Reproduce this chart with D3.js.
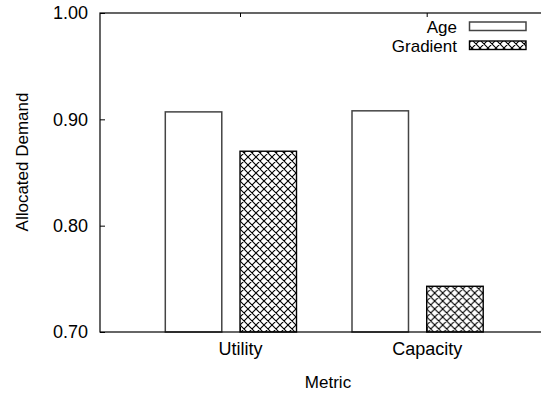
<!DOCTYPE html>
<html>
<head>
<meta charset="utf-8">
<script src="https://cdn.jsdelivr.net/npm/d3@7"></script>
<style>
  html, body { margin: 0; padding: 0; background: #fff; }
  svg { display: block; font-family: "Liberation Sans", Arial, Helvetica, sans-serif; }
</style>
</head>
<body>
<svg id="chart" width="541" height="394"></svg>
<script>
// Allocated demand per metric, Age vs Gradient
const categories = ["Utility", "Capacity"];
const seriesNames = ["Age", "Gradient"];
const ageValues = [0.907, 0.908];
const gradientValues = [0.870, 0.743];
const yTicks = [0.70, 0.80, 0.90, 1.00];
const yDomain = [0.70, 1.00];

const svg = d3.select("#chart");
const margin = { left: 100, top: 13 };
const plotW = 456, plotH = 319;

const defs = svg.append("defs");
const hatch = defs.append("pattern")
  .attr("id", "crosshatch")
  .attr("patternUnits", "userSpaceOnUse")
  .attr("width", 8).attr("height", 8);
hatch.append("rect").attr("width", 8).attr("height", 8).attr("fill", "#fff");
hatch.append("path")
  .attr("d", "M0,0L8,8M8,0L0,8M-1,7L1,9M7,-1L9,1M-1,1L1,-1M7,9L9,7")
  .attr("stroke", "#000").attr("stroke-width", 1.1).attr("fill", "none");

const g = svg.append("g").attr("transform", `translate(${margin.left},${margin.top})`);

const y = d3.scaleLinear().domain(yDomain).range([plotH, 0]);
const x0 = d3.scalePoint().domain(categories).range([140, 326.7]);
const x1 = d3.scaleBand().domain(seriesNames).range([-74.7, 56.5]).paddingInner(0.244);

const rows = categories.map((c, i) => ({ category: c, values: [
  { series: "Age", value: ageValues[i] },
  { series: "Gradient", value: gradientValues[i] }
]}));

const styles = {
  Age: { fill: "#fff", stroke: "#444", width: 1.5 },
  Gradient: { fill: "url(#crosshatch)", stroke: "#000", width: 1.4 }
};

const groups = g.selectAll("g.cluster").data(rows).join("g")
  .attr("class", "cluster")
  .attr("transform", d => `translate(${x0(d.category)},0)`);

groups.selectAll("rect").data(d => d.values).join("rect")
  .attr("x", d => x1(d.series))
  .attr("width", x1.bandwidth())
  .attr("y", d => y(d.value))
  .attr("height", d => y(yDomain[0]) - y(d.value))
  .attr("fill", d => styles[d.series].fill)
  .attr("stroke", d => styles[d.series].stroke)
  .attr("stroke-width", d => styles[d.series].width);

// Axes with inward ticks
const fontSize = 18;
const yAxis = g.append("g")
  .call(d3.axisLeft(y).tickValues(yTicks).tickFormat(d3.format(".2f"))
    .tickSizeInner(-5).tickSizeOuter(0).tickPadding(12));
const xAxis = g.append("g").attr("transform", `translate(0,${plotH})`)
  .call(d3.axisBottom(x0).tickSizeInner(-5).tickSizeOuter(0).tickPadding(10));
const xTop = g.append("g")
  .call(d3.axisTop(x0).tickFormat("").tickSizeInner(-4).tickSizeOuter(0));

[yAxis, xAxis, xTop].forEach(a => {
  a.select(".domain").remove();
  a.selectAll("line").attr("stroke", "#000");
  a.selectAll("text").attr("font-size", fontSize).attr("fill", "#000")
    .attr("font-family", "Liberation Sans, Arial, sans-serif");
});

// Frame
g.append("rect")
  .attr("width", plotW).attr("height", plotH)
  .attr("fill", "none").attr("stroke", "#000").attr("stroke-width", 1.2);

// Axis titles
svg.append("text")
  .attr("transform", "translate(28,162) rotate(-90)")
  .attr("text-anchor", "middle")
  .attr("font-size", 17)
  .text("Allocated Demand");
svg.append("text")
  .attr("x", 328).attr("y", 388)
  .attr("text-anchor", "middle")
  .attr("font-size", 17)
  .text("Metric");

// Legend
const legend = svg.append("g");
seriesNames.forEach((s, i) => {
  const ly = 26.5 + i * 19;
  legend.append("text")
    .attr("x", 457).attr("y", ly + 6)
    .attr("text-anchor", "end")
    .attr("font-size", 17)
    .text(s);
  legend.append("rect")
    .attr("x", 469.5).attr("y", ly - 4.5)
    .attr("width", 56.5).attr("height", 8.5)
    .attr("fill", styles[s].fill)
    .attr("stroke", styles[s].stroke)
    .attr("stroke-width", styles[s].width);
});
</script>
</body>
</html>
